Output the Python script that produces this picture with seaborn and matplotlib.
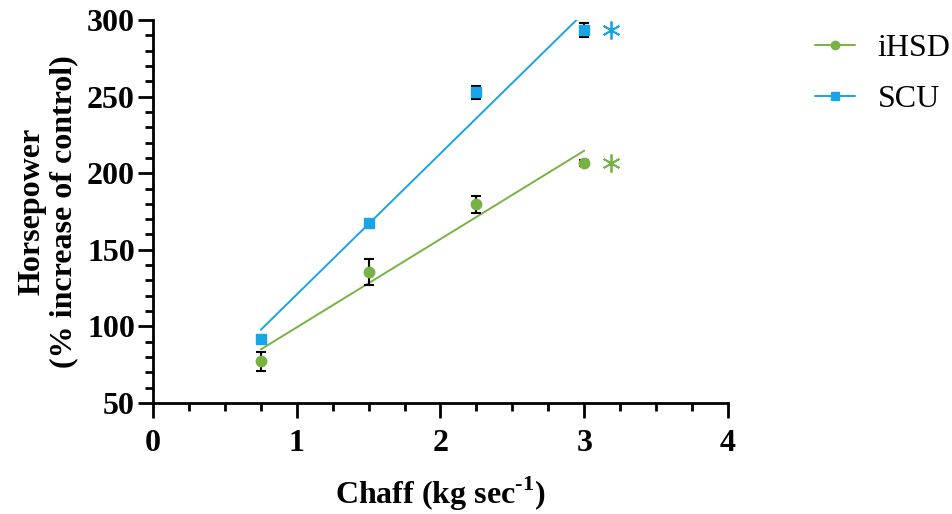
import numpy as np
import pandas as pd
import matplotlib
matplotlib.use("Agg")
import matplotlib.pyplot as plt
import matplotlib.transforms as mtransforms
from matplotlib.ticker import MultipleLocator
import seaborn as sns

# ---- data ----
chaff = [0.75, 1.5, 2.25, 3.0]
ihsd_mean = [77.2, 135.7, 179.7, 206.7]
ihsd_err = [6.2, 8.6, 5.4, 2.0]
scu_mean = [91.6, 167.7, 252.8, 293.5]
scu_err = [2.0, 2.0, 4.4, 4.8]
series_names = ["iHSD", "SCU"]
x_ticks = [0, 1, 2, 3, 4]
y_ticks = [50, 100, 150, 200, 250, 300]

GREEN = "#77b244"
BLUE = "#19a4e8"

df = pd.DataFrame({
    "chaff": chaff * 2,
    "hp": ihsd_mean + scu_mean,
    "err": ihsd_err + scu_err,
    "series": [series_names[0]] * 4 + [series_names[1]] * 4,
})

sns.set_theme(style="ticks")
plt.rcParams["font.family"] = ["Liberation Serif", "DejaVu Serif"]
plt.rcParams["mathtext.fontset"] = "custom"
plt.rcParams["mathtext.rm"] = "Liberation Serif:bold"
plt.rcParams["mathtext.bf"] = "Liberation Serif:bold"

FS = 23

fig = plt.figure(figsize=(9.52, 5.14), dpi=100)
ax = fig.add_axes([0.1607, 0.216, 0.604, 0.745])

styles = {"iHSD": dict(color=GREEN, marker="o", ms=7.5),
          "SCU": dict(color=BLUE, marker="s", ms=7.5)}

for name in series_names:
    sub = df[df["series"] == name]
    st = styles[name]
    sns.regplot(data=sub, x="chaff", y="hp", scatter=False, ci=None, ax=ax,
                line_kws=dict(color=st["color"], lw=1.4), truncate=True)
    ax.errorbar(sub["chaff"], sub["hp"], yerr=sub["err"], fmt="none",
                ecolor="black", elinewidth=1.5, capsize=3.5, capthick=1.5, zorder=3)
    ax.plot(sub["chaff"], sub["hp"], ls="none", marker=st["marker"], ms=st["ms"],
            color=st["color"], mec=st["color"], zorder=4)
    # significance asterisk next to last point
    tr = mtransforms.offset_copy(ax.transData, fig=fig, x=27, y=0, units="dots")
    ax.plot(sub["chaff"].iloc[-1], sub["hp"].iloc[-1], ls="none",
            marker=(6, 2, 0), ms=13, mew=1.3, color=st["color"],
            transform=tr, clip_on=False, zorder=5)

# legend proxies
handles = [plt.Line2D([], [], color=styles[n]["color"], marker=styles[n]["marker"],
                      ms=6, lw=1.4) for n in series_names]
fig.legend(handles, series_names, loc="upper left", bbox_to_anchor=(0.856, 0.935),
           frameon=False, fontsize=FS, handlelength=1.25, handletextpad=0.72,
           labelspacing=0.7, borderpad=0, borderaxespad=0, labelcolor="black")

ax.set_xlim(0, 4)
ax.set_ylim(50, 300)
ax.set_xticks(x_ticks)
ax.set_yticks(y_ticks)
ax.xaxis.set_minor_locator(MultipleLocator(0.25))
ax.yaxis.set_minor_locator(MultipleLocator(10))

sns.despine(ax=ax)
for s in ["left", "bottom"]:
    ax.spines[s].set_linewidth(2.0)
    ax.spines[s].set_color("black")
ax.tick_params(which="major", length=11, width=2.0, color="black")
ax.tick_params(which="minor", length=6, width=2.0, color="black")
ax.tick_params(axis="x", which="major", pad=8)
ax.tick_params(axis="y", which="major", pad=2)
for lab in ax.get_xticklabels() + ax.get_yticklabels():
    lab.set_fontsize(FS)
    lab.set_fontweight("bold")
    lab.set_color("black")

ax.set_xlabel(r"Chaff (kg sec$^{\text{-}1}$)", fontsize=FS, fontweight="bold",
              labelpad=12, color="black")
ax.set_ylabel("Horsepower\n(% increase of control)", fontsize=FS, fontweight="bold",
              labelpad=6, color="black", linespacing=1.15)

fig.savefig("out.png", dpi=100)
